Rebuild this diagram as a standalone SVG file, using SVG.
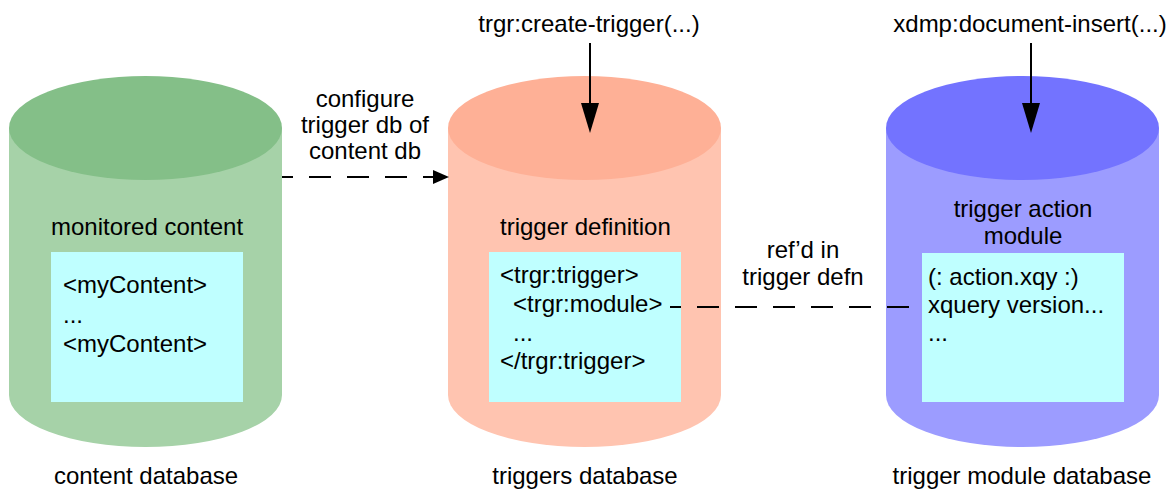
<svg xmlns="http://www.w3.org/2000/svg" width="1173" height="490" viewBox="0 0 1173 490">
<style>
text{font-family:"Liberation Sans",Arial,sans-serif;font-size:24px;fill:#000}
.c{text-anchor:middle}
.box{fill:#BFFFFF}
.dash{stroke:#000;stroke-width:2;stroke-dasharray:22 16;fill:none}
.solid{stroke:#000;stroke-width:2;fill:none}
</style>
<rect width="1173" height="490" fill="#fff"/>
<g id="content-db">
<path d="M9,128 L9,395 A136.5,52 0 0 0 282,395 L282,128 Z" fill="#A6D2A8"/>
<ellipse cx="145.5" cy="128" rx="136.5" ry="52" fill="#84BF88"/>
<text x="51" y="235">monitored content</text>
<rect class="box" x="51" y="252" width="192" height="150"/>
<text x="63" y="293">&lt;myContent&gt;</text>
<text x="63" y="323">...</text>
<text x="63" y="352">&lt;myContent&gt;</text>
<text class="c" x="146" y="484">content database</text>
</g>
<g id="triggers-db">
<path d="M448,128 L448,395 A136.5,52 0 0 0 721,395 L721,128 Z" fill="#FFC4B0"/>
<ellipse cx="584.5" cy="128" rx="136.5" ry="52" fill="#FEB096"/>
<text x="500" y="235">trigger definition</text>
<rect class="box" x="489" y="252" width="192" height="150"/>
<text x="500" y="283">&lt;trgr:trigger&gt;</text>
<text x="513" y="312">&lt;trgr:module&gt;</text>
<text x="513" y="341">...</text>
<text x="500" y="369">&lt;/trgr:trigger&gt;</text>
<text class="c" x="585" y="484">triggers database</text>
</g>
<g id="module-db">
<path d="M886,128 L886,395 A136.5,52 0 0 0 1159,395 L1159,128 Z" fill="#9C9CFF"/>
<ellipse cx="1022.5" cy="128" rx="136.5" ry="52" fill="#7373FF"/>
<text class="c" x="1023" y="217">trigger action</text>
<text class="c" x="1023" y="244">module</text>
<rect class="box" x="922" y="253" width="202" height="149"/>
<text x="928" y="285">(: action.xqy :)</text>
<text x="928" y="313">xquery version...</text>
<text x="928" y="341">...</text>
<text class="c" x="1022" y="484">trigger module database</text>
</g>
<g id="labels">
<text class="c" x="589" y="32">trgr:create-trigger(...)</text>
<text class="c" x="1030" y="32">xdmp:document-insert(...)</text>
<text class="c" x="365" y="107">configure</text>
<text class="c" x="365" y="133">trigger db of</text>
<text class="c" x="365" y="159">content db</text>
<text class="c" x="803" y="258">ref’d in</text>
<text class="c" x="803" y="285">trigger defn</text>
</g>
<g id="connectors">
<line class="solid" x1="590" y1="43" x2="590" y2="104"/>
<polygon points="581,103 599,103 590,133" fill="#000"/>
<line class="solid" x1="1031" y1="43" x2="1031" y2="104"/>
<polygon points="1022,103 1040,103 1031,133" fill="#000"/>
<line class="dash" x1="282" y1="177" x2="434" y2="177" stroke-dashoffset="11"/>
<polygon points="433,170 449,177 433,184" fill="#000"/>
<line class="dash" x1="670" y1="307" x2="922" y2="307" stroke-dasharray="21 15" stroke-dashoffset="11"/>
</g>
</svg>
